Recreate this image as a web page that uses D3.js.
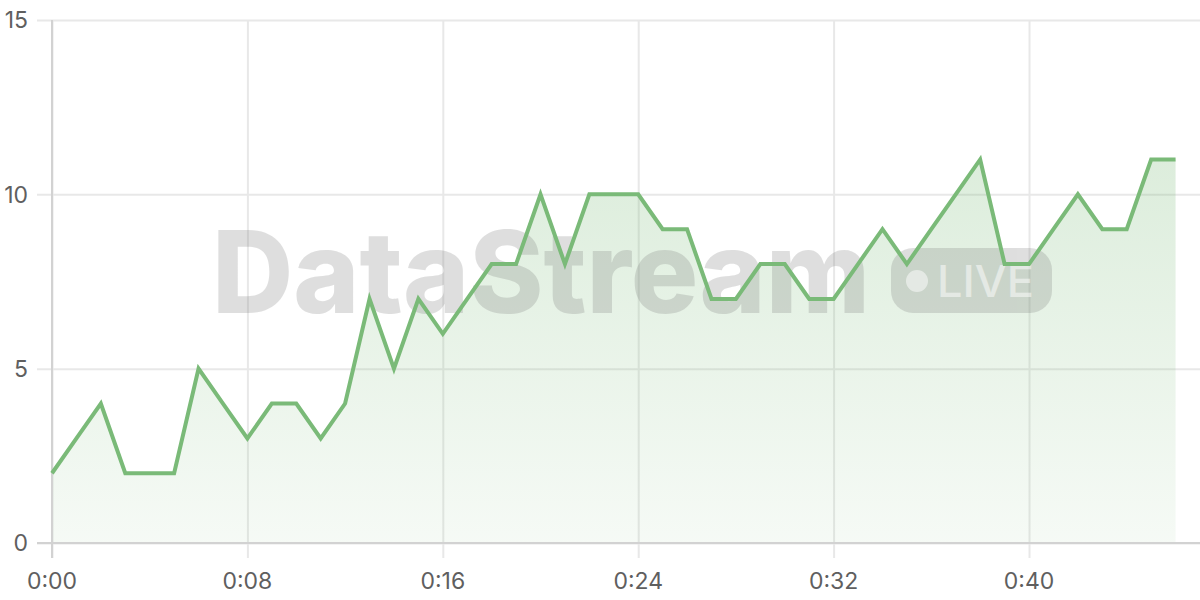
<!DOCTYPE html>
<html>
<head>
<meta charset="utf-8">
<script src="https://cdn.jsdelivr.net/npm/d3@7"></script>
<style>
  html, body { margin: 0; padding: 0; background: #fff; }
  svg { display: block; font-family: Inter, "Noto Sans", sans-serif; }
</style>
</head>
<body>
<svg id="chart" width="1200" height="600"></svg>
<script>
// seconds since start, one sample per second
const seconds = d3.range(0, 47);
const values = [2, 3, 4, 2, 2, 2, 5, 4, 3, 4, 4, 3, 4, 7, 5, 7, 6, 7, 8, 8,
  10, 8, 10, 10, 10, 9, 9, 7, 7, 8, 8, 7, 7, 8, 9, 8, 9, 10, 11, 8,
  8, 9, 10, 9, 9, 11, 11];
const xTicks = [0, 8, 16, 24, 32, 40];
const yTicks = [0, 5, 10, 15];

const data = seconds.map((s, i) => ({ t: s, v: values[i] }));

const svg = d3.select("#chart");
const margin = { top: 20, right: 0, bottom: 57, left: 52 };
const W = 1200, H = 600;

const x = d3.scaleLinear().domain([0, 47]).range([margin.left, W - margin.right]);
const y = d3.scaleLinear().domain([0, 15]).range([H - margin.bottom, margin.top]);

const fmt = (s) => `${Math.floor(s / 60)}:${String(s % 60).padStart(2, "0")}`;

// gradient for the area
const defs = svg.append("defs");
const grad = defs.append("linearGradient")
  .attr("id", "areaFill")
  .attr("gradientUnits", "userSpaceOnUse")
  .attr("x1", 0).attr("x2", 0)
  .attr("y1", y(d3.max(values))).attr("y2", y(0));
grad.append("stop").attr("offset", "0%").attr("stop-color", "#7aba78").attr("stop-opacity", 0.26);
grad.append("stop").attr("offset", "100%").attr("stop-color", "#7aba78").attr("stop-opacity", 0.07);

// horizontal grid + y ticks
svg.append("g")
  .attr("transform", `translate(${margin.left},0)`)
  .call(d3.axisLeft(y).tickValues(yTicks).tickSize(15).tickFormat(""))
  .call(g => g.select(".domain").remove())
  .call(g => g.selectAll(".tick line")
    .attr("x2", W - margin.left - margin.right)
    .attr("x1", -15)
    .attr("stroke", "#e8e8e8")
    .attr("stroke-width", 2));

// vertical grid + x ticks
svg.append("g")
  .attr("transform", `translate(0,${margin.top})`)
  .call(d3.axisBottom(x).tickValues(xTicks).tickSize(0).tickFormat(""))
  .call(g => g.select(".domain").remove())
  .call(g => g.selectAll(".tick line")
    .attr("y1", 0)
    .attr("y2", H - margin.bottom - margin.top + 15)
    .attr("stroke", "#e8e8e8")
    .attr("stroke-width", 2));

// area
svg.append("path")
  .datum(data)
  .attr("fill", "url(#areaFill)")
  .attr("d", d3.area().x(d => x(d.t)).y0(y(0)).y1(d => y(d.v)));

// watermark
const wm = svg.append("g").attr("opacity", 0.22);
wm.append("text")
  .attr("x", 212)
  .attr("y", 313)
  .attr("font-size", 114)
  .attr("font-weight", 800)
  .attr("fill", "#6f6f6f")
  .attr("textLength", 658)
  .attr("lengthAdjust", "spacingAndGlyphs")
  .text("DataStream");

wm.append("rect")
  .attr("x", 891).attr("y", 248)
  .attr("width", 161).attr("height", 65)
  .attr("rx", 22)
  .attr("fill", "#6f6f6f");
const live = svg.append("g").attr("opacity", 0.5);
live.append("circle")
  .attr("cx", 917).attr("cy", 281).attr("r", 11)
  .attr("fill", "#fff");
live.append("text")
  .attr("x", 937).attr("y", 297)
  .attr("font-size", 44)
  .attr("font-weight", 500)
  .attr("fill", "#fff")
  .attr("textLength", 97)
  .attr("lengthAdjust", "spacingAndGlyphs")
  .text("LIVE");

// axis lines
svg.append("line")
  .attr("x1", margin.left).attr("x2", margin.left)
  .attr("y1", margin.top).attr("y2", H - margin.bottom + 15)
  .attr("stroke", "#d2d2d2").attr("stroke-width", 2);
svg.append("line")
  .attr("x1", margin.left - 15).attr("x2", W)
  .attr("y1", y(0)).attr("y2", y(0))
  .attr("stroke", "#d2d2d2").attr("stroke-width", 2);

// line
svg.append("path")
  .datum(data)
  .attr("fill", "none")
  .attr("stroke", "#7aba78")
  .attr("stroke-width", 4)
  .attr("stroke-linejoin", "miter")
  .attr("d", d3.line().x(d => x(d.t)).y(d => y(d.v)));

// tick labels
svg.append("g")
  .selectAll("text")
  .data(yTicks)
  .join("text")
  .attr("x", 28)
  .attr("y", d => y(d))
  .attr("dy", "0.36em")
  .attr("text-anchor", "end")
  .attr("font-size", 23)
  .attr("fill", "#5f5f5f")
  .text(d => d);

svg.append("g")
  .selectAll("text")
  .data(xTicks)
  .join("text")
  .attr("x", d => x(d))
  .attr("y", 589)
  .attr("text-anchor", "middle")
  .attr("font-size", 23)
  .attr("fill", "#5f5f5f")
  .text(d => fmt(d));
</script>
</body>
</html>
